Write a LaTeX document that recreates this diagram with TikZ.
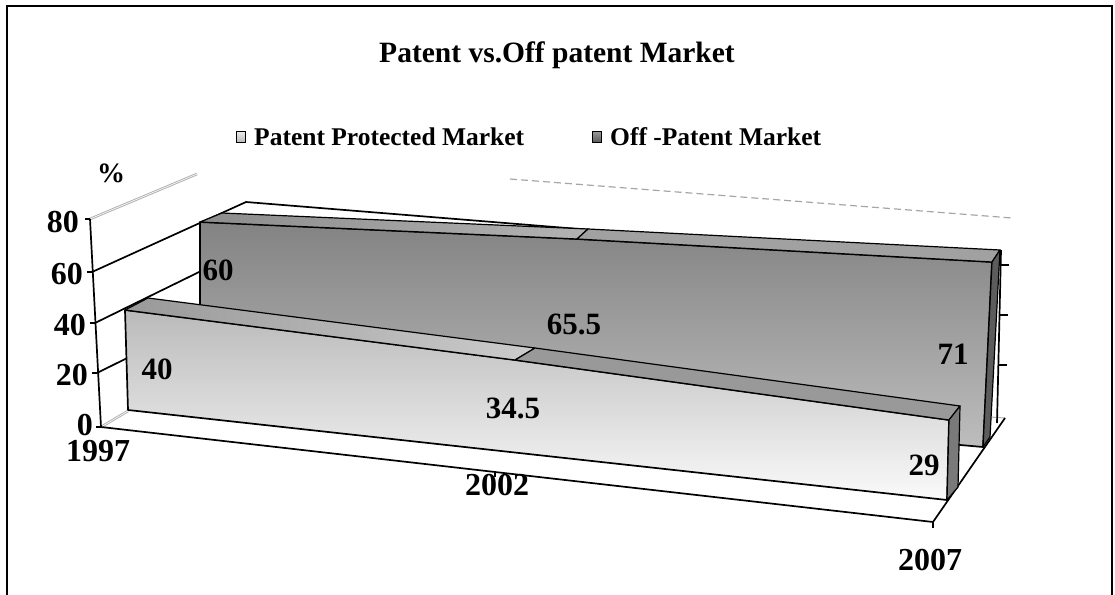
\documentclass[tikz,border=0pt]{standalone}
\usepackage{fontspec}
\setmainfont{Liberation Serif}
\begin{document}
\begin{tikzpicture}[x=1pt,y=-1pt,
  edge/.style={draw=black,line width=1.7pt,line join=round},
  thinedge/.style={draw=black,line width=1.2pt,line join=round},
  faint/.style={draw=black!30,line width=1pt},
  lbl/.style={font=\bfseries\fontsize{31}{31}\selectfont,inner sep=0pt},
  axlbl/.style={font=\bfseries\fontsize{32}{32}\selectfont,inner sep=0pt},
  legtxt/.style={font=\bfseries\fontsize{25.5}{25.5}\selectfont,inner sep=0pt,anchor=base west},
]
\definecolor{dkTop}{HTML}{838383}
\definecolor{dkBot}{HTML}{BDBDBD}
\definecolor{dkSide}{HTML}{5C5C5C}
\definecolor{ltTop}{HTML}{BABABA}
\definecolor{ltBot}{HTML}{FAFAFA}
\definecolor{ltSide}{HTML}{7A7A7A}
\useasboundingbox (0,0) rectangle (1115,594);

% outer frame
\draw[line width=2pt] (7,6) rectangle (1112,604);

% title and legend
\node[font=\bfseries\fontsize{29.5}{29.5}\selectfont,inner sep=0pt,anchor=base] (title) at (557,63) {Patent vs.Off patent Market};
\node[draw=black,line width=1pt,minimum width=9pt,minimum height=11pt,inner sep=0pt,
      top color=black!8,bottom color=black!28] (key1) at (241,137) {};
\node[legtxt] (leg1) at (254,145) {Patent Protected Market};
\node[draw=black,line width=1pt,minimum width=9pt,minimum height=11pt,inner sep=0pt,
      top color=black!40,bottom color=black!65] (key2) at (597,137) {};
\node[legtxt] (leg2) at (610,145) {Off -Patent Market};

% value axis points (front-left edge) and left-wall back points
\coordinate (v0) at (101,427);
\coordinate (v20) at (97,373);
\coordinate (v40) at (95,323);
\coordinate (v60) at (92,272);
\coordinate (v80) at (90,219);
\coordinate (w20) at (244,300);
\coordinate (w40) at (244,250);
\coordinate (w60) at (246,202);
\coordinate (w80) at (197,174);

% light wall edges
\draw[faint,double=white,double distance=0.6pt] (v80) -- (w80);
\draw[faint,double=white,double distance=0.6pt] (v0) -- (128,411);
\draw[black!35,line width=1.2pt,dash pattern=on 7pt off 4pt] (510,179) -- (1012,218);

% grid lines on the left wall and back wall
\draw[edge] (v20) -- (w20);
\draw[edge] (v40) -- (w40);
\draw[edge] (v60) -- (w60) -- (900,255);

% value axis and ticks
\draw[edge] (v80) -- (v0);
\foreach \p in {v0,v20,v40,v60,v80}
  \draw[edge] (\p) -- ++(-5,0);
\node[axlbl,anchor=east] (t80) at (79,222) {80};
\node[axlbl,anchor=east] (t60) at (83,274) {60};
\node[axlbl,anchor=east] (t40) at (86,325) {40};
\node[axlbl,anchor=east] (t20) at (88,375) {20};
\node[axlbl,anchor=east] (t0) at (93,425) {0};
\node[font=\bfseries\fontsize{28}{28}\selectfont,inner sep=0pt] (pct) at (111,173) {\%};

% right back edge with ticks
\draw[faint] (990,417) -- (1005,418);
\draw[edge] (1001,250) -- (997,423);
\foreach \yy/\xx in {265/1000,315/999,365/998}
  \draw[edge] (\xx,\yy) -- ++(9,0);

% floor
\draw[edge] (v0) -- (933,522) coordinate (fr) -- (1005,418);
\draw[edge] (495,472) -- ++(0,5);
\draw[edge] (fr) -- ++(0,6);

% dark ribbon: Off-Patent Market
\path[top color=dkTop,bottom color=dkBot] (200,222) -- (577,239) -- (992,262) -- (983,447) -- (200,378) -- cycle;
\draw[edge] (200,222) -- (577,239) -- (992,262) -- (983,447) -- (200,378) -- cycle;
\path[left color=black!45,right color=black!30] (200,222) -- (222,213) -- (588,229) -- (577,239) -- cycle;
\draw[thinedge] (200,222) -- (222,213) -- (588,229) -- (577,239) -- cycle;
\path[fill=black!37] (577,239) -- (588,229) -- (1000,250) -- (992,262) -- cycle;
\draw[thinedge] (577,239) -- (588,229) -- (1000,250) -- (992,262) -- cycle;
\path[fill=dkSide] (992,262) -- (1000,250) -- (990,437) -- (983,447) -- cycle;
\draw[thinedge] (992,262) -- (1000,250) -- (990,437) -- (983,447) -- cycle;

% light ribbon: Patent Protected Market
\path[top color=ltTop,bottom color=ltBot] (125,310) -- (515,360) -- (949,420) -- (947,500) -- (128,410) -- cycle;
\draw[edge] (125,310) -- (515,360) -- (949,420) -- (947,500) -- (128,410) -- cycle;
\path[left color=black!40,right color=black!20] (125,310) -- (148,298) -- (535,348) -- (515,360) -- cycle;
\draw[thinedge] (125,310) -- (148,298) -- (535,348) -- (515,360) -- cycle;
\path[fill=black!40] (515,360) -- (535,348) -- (960,406) -- (949,420) -- cycle;
\draw[thinedge] (515,360) -- (535,348) -- (960,406) -- (949,420) -- cycle;
\path[fill=ltSide] (949,420) -- (960,406) -- (958,487) -- (947,500) -- cycle;
\draw[thinedge] (949,420) -- (960,406) -- (958,487) -- (947,500) -- cycle;

% data labels
\node[lbl] (d40) at (157,369) {40};
\node[lbl] (d345) at (513,408) {34.5};
\node[lbl] (d29) at (924,465) {29};
\node[lbl] (d60) at (218,270) {60};
\node[lbl] (d655) at (574,324) {65.5};
\node[lbl] (d71) at (953,354) {71};

% category labels
\node[axlbl] (c1997) at (98,451) {1997};
\node[axlbl] (c2002) at (497,485) {2002};
\node[axlbl] (c2007) at (930,560) {2007};
\end{tikzpicture}
\end{document}
